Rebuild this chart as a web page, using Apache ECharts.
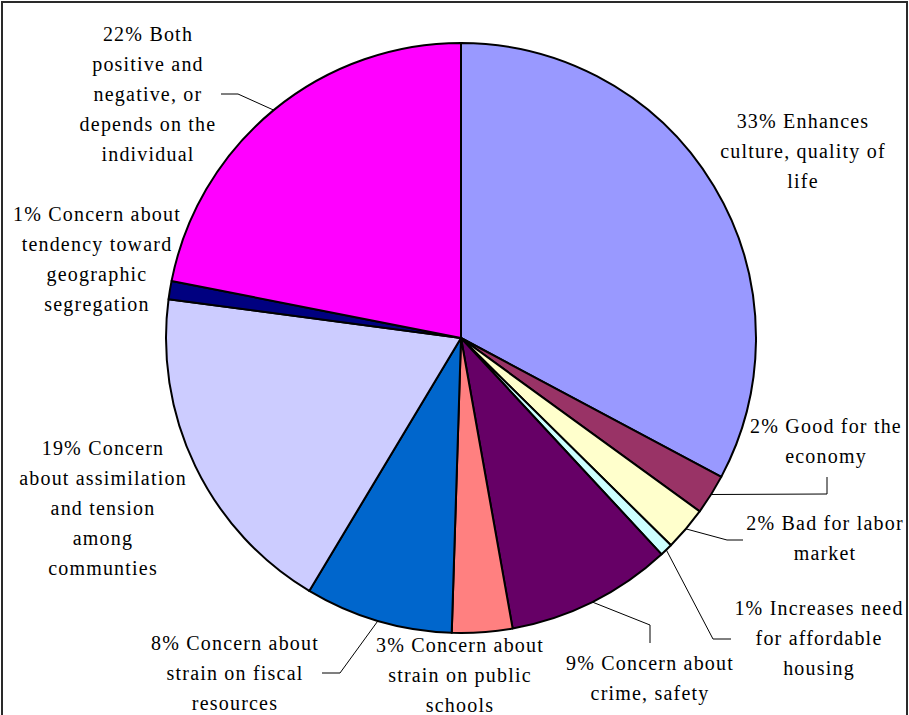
<!DOCTYPE html>
<html>
<head>
<meta charset="utf-8">
<script src="https://cdn.jsdelivr.net/npm/echarts/dist/echarts.min.js"></script>
<style>
  html, body { margin: 0; padding: 0; background: #ffffff; }
  #chart { width: 909px; height: 715px; }
  #chart text { letter-spacing: 1.2px; }
</style>
</head>
<body>
<div id="chart"></div>
<script>
// ---- data ----
const categories = [
  'Enhances\nculture, quality of\nlife',
  'Good for the\neconomy',
  'Bad for labor\nmarket',
  'Increases need\nfor affordable\nhousing',
  'Concern about\ncrime, safety',
  'Concern about\nstrain on public\nschools',
  'Concern about\nstrain on fiscal\nresources',
  'Concern\nabout assimilation\nand tension\namong\ncommunties',
  'Concern about\ntendency toward\ngeographic\nsegregation',
  'Both\npositive and\nnegative, or\ndepends on the\nindividual'
];
const values = [32.8, 2.2, 2.4, 0.7, 9.1, 3.3, 8.1, 18.5, 1.0, 21.9];
const colors = ['#9999FF', '#993366', '#FFFFCC', '#CCFFFF', '#660066',
                '#FF8080', '#0066CC', '#CCCCFF', '#000080', '#FF00FF'];

// ---- label layout (text centre, leader-line elbow and end) ----
const labelCenters = [
  [803, 151], [826, 441], [825, 538], [819, 638], [650, 678],
  [460, 675], [235, 673], [103, 508], [97, 259], [148, 94]
];
const leaderPaths = [
  null,
  [[827, 494], [827, 477]],
  [[727, 540], [743, 540]],
  [[713, 639], [731, 639]],
  [[650, 625], [650, 643]],
  null,
  [[340, 673], [322, 673]],
  null,
  null,
  [[238, 94], [221, 94]]
];

const chart = echarts.init(document.getElementById('chart'), null, { renderer: 'svg' });

const seriesData = categories.map((name, i) => ({
  name: name,
  value: values[i],
  itemStyle: { color: colors[i] },
  labelLine: { show: !!leaderPaths[i] }
}));

chart.setOption({
  animation: false,
  backgroundColor: '#ffffff',
  graphic: [{
    type: 'rect',
    shape: { x: 2, y: 2, width: 905, height: 730 },
    style: { fill: null, stroke: '#2a2a2a', lineWidth: 2 },
    z: 100
  }],
  series: [{
    type: 'pie',
    center: [461, 338],
    radius: 295,
    startAngle: 90,
    clockwise: true,
    avoidLabelOverlap: false,
    silent: true,
    emphasis: { disabled: true },
    itemStyle: { borderColor: '#000000', borderWidth: 2 },
    label: {
      show: true,
      position: 'outside',
      fontFamily: 'Liberation Serif',
      fontSize: 20,
      lineHeight: 30,
      color: '#000000',
      align: 'center',
      formatter: p => Math.round(p.percent) + '% ' + p.name
    },
    labelLine: {
      show: true,
      lineStyle: { color: '#000000', width: 1 }
    },
    labelLayout: function (params) {
      const i = params.dataIndex;
      const c = labelCenters[i];
      const out = { x: c[0], y: c[1], align: 'center', verticalAlign: 'middle' };
      if (leaderPaths[i] && params.labelLinePoints) {
        out.labelLinePoints = [params.labelLinePoints[0]].concat(leaderPaths[i]);
      }
      return out;
    },
    data: seriesData
  }]
});
</script>
</body>
</html>
